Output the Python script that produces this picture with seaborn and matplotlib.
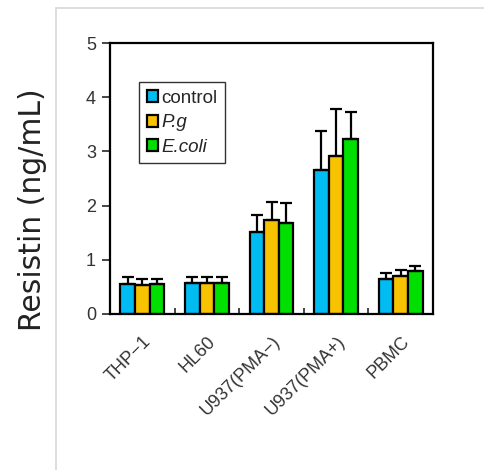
#!/usr/bin/env python3
import matplotlib
matplotlib.use("Agg")
import matplotlib.pyplot as plt
import numpy as np
import pandas as pd
import seaborn as sns
from matplotlib.lines import Line2D

cells = ["THP\u22121", "HL60", "U937(PMA\u2212)", "U937(PMA+)", "PBMC"]
groups = ["control", "P.g", "E.coli"]
control_mean = [0.55, 0.57, 1.52, 2.65, 0.64]
pg_mean = [0.54, 0.58, 1.73, 2.92, 0.71]
ecoli_mean = [0.55, 0.58, 1.68, 3.22, 0.80]
control_err = [0.13, 0.11, 0.30, 0.73, 0.12]
pg_err = [0.11, 0.11, 0.33, 0.87, 0.10]
ecoli_err = [0.10, 0.10, 0.36, 0.50, 0.08]
colors = ["#00bcf2", "#f7c200", "#00e000"]

df = pd.DataFrame({
    "cell": cells * 3,
    "group": np.repeat(groups, len(cells)),
    "value": control_mean + pg_mean + ecoli_mean,
})
errs = [control_err, pg_err, ecoli_err]

sns.set_style("ticks")
plt.rcParams["font.family"] = ["Liberation Sans", "DejaVu Sans"]

fig = plt.figure(figsize=(4.84, 4.70), dpi=100)
ax = fig.add_axes([110 / 484, 1 - 314 / 470, 323 / 484, 271 / 470])

sns.barplot(data=df, x="cell", y="value", hue="group", palette=colors,
            saturation=1, width=0.68, gap=0, edgecolor="black", linewidth=1.6,
            errorbar=None, ax=ax)

for cont, err in zip(ax.containers, errs):
    xs = [p.get_x() + p.get_width() / 2 for p in cont]
    ys = [p.get_height() for p in cont]
    ax.errorbar(xs, ys, yerr=[np.zeros(len(err)), err], fmt="none",
                ecolor="black", elinewidth=1.6, capsize=4, capthick=1.6, zorder=1)

ax.set_xlim(-0.5, 4.5)
ax.set_ylim(0, 5)
ax.set_yticks(range(6))
ax.set_xlabel("")
ax.set_ylabel("")
for s in ax.spines.values():
    s.set_linewidth(1.6)
    s.set_color("black")
ax.tick_params(axis="y", direction="out", length=6, width=1.2, labelsize=13,
               labelcolor="#333333", pad=4)
ax.set_xticks(np.arange(5))
ax.set_xticklabels(cells, rotation=45, ha="right", rotation_mode="anchor",
                   fontsize=13, color="#333333")
ax.tick_params(axis="x", length=0, pad=14)
ax.set_xticks(np.arange(0.5, 4.5, 1), minor=True)
ax.tick_params(axis="x", which="minor", direction="in", length=4, width=1.2)

leg = ax.legend(loc="upper left", bbox_to_anchor=(0.09, 0.855), frameon=True,
                borderaxespad=0, fancybox=False, edgecolor="black", fontsize=13.5,
                handlelength=0.6, handleheight=0.6, handletextpad=0.2,
                borderpad=0.4, labelspacing=0.4)
leg.get_frame().set_linewidth(1.0)
for t in leg.get_texts()[1:]:
    t.set_fontstyle("italic")

fig.text(33 / 484, 1 - 210 / 470, "Resistin (ng/mL)", rotation=90,
         ha="center", va="center", fontsize=21.5, color="#222222",
         family=["DejaVu Sans"])

fig.add_artist(Line2D([56 / 484, 56 / 484], [0, 1 - 8 / 470],
                      color="#d8d8d8", lw=1.2, transform=fig.transFigure))
fig.add_artist(Line2D([56 / 484, 1], [1 - 8 / 470, 1 - 8 / 470],
                      color="#d8d8d8", lw=1.2, transform=fig.transFigure))

fig.savefig("out.png", dpi=100)
